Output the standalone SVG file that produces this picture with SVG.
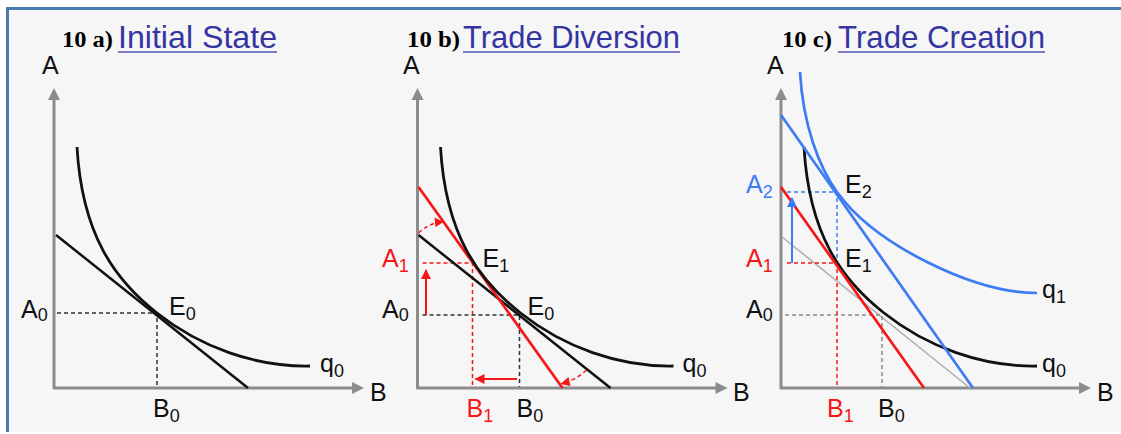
<svg xmlns="http://www.w3.org/2000/svg" width="1121" height="434" viewBox="0 0 1121 434">
<style>
.ax{fill:none;stroke:#8c8c8c;stroke-width:3;stroke-linejoin:round;stroke-linecap:round}
.axh{fill:#8c8c8c}
.crv{fill:none;stroke:#111;stroke-width:2.8}
.bl{fill:none;stroke:#111;stroke-width:2.5}
.red{fill:none;stroke:#f41818;stroke-width:2.7}
.blue{fill:none;stroke:#3d7cf2;stroke-width:2.7}
.gray{fill:none;stroke:#b0b0b0;stroke-width:1.6}
.dk{fill:none;stroke:#333;stroke-width:1.5;stroke-dasharray:4 3}
.dg{fill:none;stroke:#8a8a8a;stroke-width:1.5;stroke-dasharray:4 3}
.dr{fill:none;stroke:#f41818;stroke-width:1.5;stroke-dasharray:4 3}
.db{fill:none;stroke:#3d7cf2;stroke-width:1.5;stroke-dasharray:4 3}
.arr{fill:none;stroke:#f41818;stroke-width:2}
.arb{fill:none;stroke:#3d7cf2;stroke-width:2}
.lbl{font-family:"Liberation Sans",Arial,sans-serif;font-size:25px;fill:#111}
.lr{fill:#f41818}
.lb{fill:#3d7cf2}
.sub{font-size:18px}
.num{font-family:"Liberation Serif","Times New Roman",serif;font-weight:bold;font-size:24px;fill:#000}
.ttl{font-family:"Liberation Sans",Arial,sans-serif;font-size:32px;fill:#3535a2}
.ul{fill:#7c7cc8}
</style>
<defs>
<marker id="mr" viewBox="0 0 10 10" refX="9" refY="5" markerWidth="10" markerHeight="10" markerUnits="userSpaceOnUse" orient="auto"><path d="M0,0 L10,5 L0,10 Z" fill="#f41818"/></marker>
<marker id="mb" viewBox="0 0 10 10" refX="9" refY="5" markerWidth="10" markerHeight="10" markerUnits="userSpaceOnUse" orient="auto"><path d="M0,0 L10,5 L0,10 Z" fill="#3d7cf2"/></marker>
<g id="axes">
<path class="ax" d="M54,98 L54,388 L354,388"/>
<path class="axh" d="M48,100 L54,88 L60,100 Z"/>
<path class="axh" d="M352,382 L364,388 L352,394 Z"/>
</g>
<path id="q0" class="crv" d="M77,147 C82,235 115,280 157,313 C200,347 255,367 310,366"/>
</defs>
<rect x="0" y="0" width="1121" height="434" fill="#ffffff"/>
<rect x="9" y="9" width="1112" height="423" fill="#f6f6f6"/>
<rect x="6" y="7" width="1115" height="3" fill="#4a7bb0"/>
<rect x="6" y="7" width="3" height="425" fill="#4a7bb0"/>

<g id="titles">
<text class="num" x="62" y="47" textLength="51" lengthAdjust="spacingAndGlyphs">10 a)</text>
<text class="ttl" x="118" y="48" textLength="159" lengthAdjust="spacingAndGlyphs">Initial State</text>
<rect class="ul" x="118" y="51" width="159" height="2"/>
<text class="num" x="407" y="47" textLength="53" lengthAdjust="spacingAndGlyphs">10 b)</text>
<text class="ttl" x="463" y="48" textLength="217" lengthAdjust="spacingAndGlyphs">Trade Diversion</text>
<rect class="ul" x="463" y="51" width="217" height="2"/>
<text class="num" x="782" y="47" textLength="50" lengthAdjust="spacingAndGlyphs">10 c)</text>
<text class="ttl" x="838" y="48" textLength="207" lengthAdjust="spacingAndGlyphs">Trade Creation</text>
<rect class="ul" x="838" y="51" width="207" height="2"/>
</g>

<g id="panel-a">
<use href="#axes"/>
<g id="a-connectors">
<path class="dk" d="M57,313 L157,313 L157,387"/>
<path class="bl" d="M56,235 L248,388"/>
<use href="#q0"/>
</g>
<text class="lbl" x="42" y="74">A</text>
<text class="lbl" x="370" y="401">B</text>
<text class="lbl" x="21" y="318">A<tspan class="sub" dy="3">0</tspan></text>
<text class="lbl" x="169" y="315">E<tspan class="sub" dy="5">0</tspan></text>
<text class="lbl" x="153" y="417">B<tspan class="sub" dy="5">0</tspan></text>
<text class="lbl" x="320" y="372">q<tspan class="sub" dy="5">0</tspan></text>
</g>

<g id="panel-b" transform="translate(363.5,0)">
<use href="#axes"/>
<g id="b-connectors">
<path class="dr" d="M59,263 L109,263 L109,387"/>
<path class="dk" d="M59,315 L156,315 L156,387"/>
<path class="bl" d="M55,235 L247,388"/>
<path class="red" d="M55,187 L199,388"/>
<use href="#q0"/>
<path class="arr" d="M62.5,315 L62.5,270" marker-end="url(#mr)"/>
<path class="arr" d="M153.5,379 L112,379" marker-end="url(#mr)"/>
<path class="dr" d="M55,233 Q65,224 75,222.5"/>
<path class="dr" d="M223,370 Q213,379 203,382"/>
<path d="M80,222 L71,217.5 L72,227 Z" fill="#f41818"/>
<path d="M197,384 L205,377 L207,386 Z" fill="#f41818"/>
</g>
<text class="lbl" x="39.5" y="74">A</text>
<text class="lbl" x="369.5" y="401">B</text>
<text class="lbl lr" x="18.5" y="267">A<tspan class="sub" dy="5">1</tspan></text>
<text class="lbl" x="119" y="267">E<tspan class="sub" dy="5">1</tspan></text>
<text class="lbl" x="18.5" y="318">A<tspan class="sub" dy="3">0</tspan></text>
<text class="lbl" x="164" y="315">E<tspan class="sub" dy="5">0</tspan></text>
<text class="lbl lr" x="103" y="417">B<tspan class="sub" dy="5">1</tspan></text>
<text class="lbl" x="153" y="417">B<tspan class="sub" dy="5">0</tspan></text>
<text class="lbl" x="319" y="372">q<tspan class="sub" dy="5">0</tspan></text>
</g>

<g id="panel-c" transform="translate(727,0)">
<use href="#axes"/>
<g id="c-connectors">
<path class="gray" d="M55,237 L243,388"/>
<path class="dg" d="M58,315 L155,315 L155,387"/>
<path class="db" d="M60,192 L110,192 L110,263"/>
<path class="dr" d="M60,263 L110,263 L110,387"/>
<use href="#q0"/>
<path class="red" d="M54,187 L197,388"/>
<path class="blue" d="M54,115 L246,388"/>
<path class="blue" d="M73,72 C76,125 92,167 110,192 C128,217 160,242 200,262 C240,282 275,293 310,293"/>
<path class="arb" d="M65,263 L65,198" marker-end="url(#mb)"/>
</g>
<text class="lbl" x="40" y="74">A</text>
<text class="lbl" x="370" y="401">B</text>
<text class="lbl lb" x="19" y="193">A<tspan class="sub" dy="5">2</tspan></text>
<text class="lbl" x="118" y="193">E<tspan class="sub" dy="5">2</tspan></text>
<text class="lbl lr" x="19" y="267">A<tspan class="sub" dy="5">1</tspan></text>
<text class="lbl" x="118" y="267">E<tspan class="sub" dy="5">1</tspan></text>
<text class="lbl" x="19" y="318">A<tspan class="sub" dy="3">0</tspan></text>
<text class="lbl lr" x="100" y="417">B<tspan class="sub" dy="5">1</tspan></text>
<text class="lbl" x="151" y="417">B<tspan class="sub" dy="5">0</tspan></text>
<text class="lbl" x="315" y="298">q<tspan class="sub" dy="5">1</tspan></text>
<text class="lbl" x="315" y="372">q<tspan class="sub" dy="5">0</tspan></text>
</g>
</svg>
